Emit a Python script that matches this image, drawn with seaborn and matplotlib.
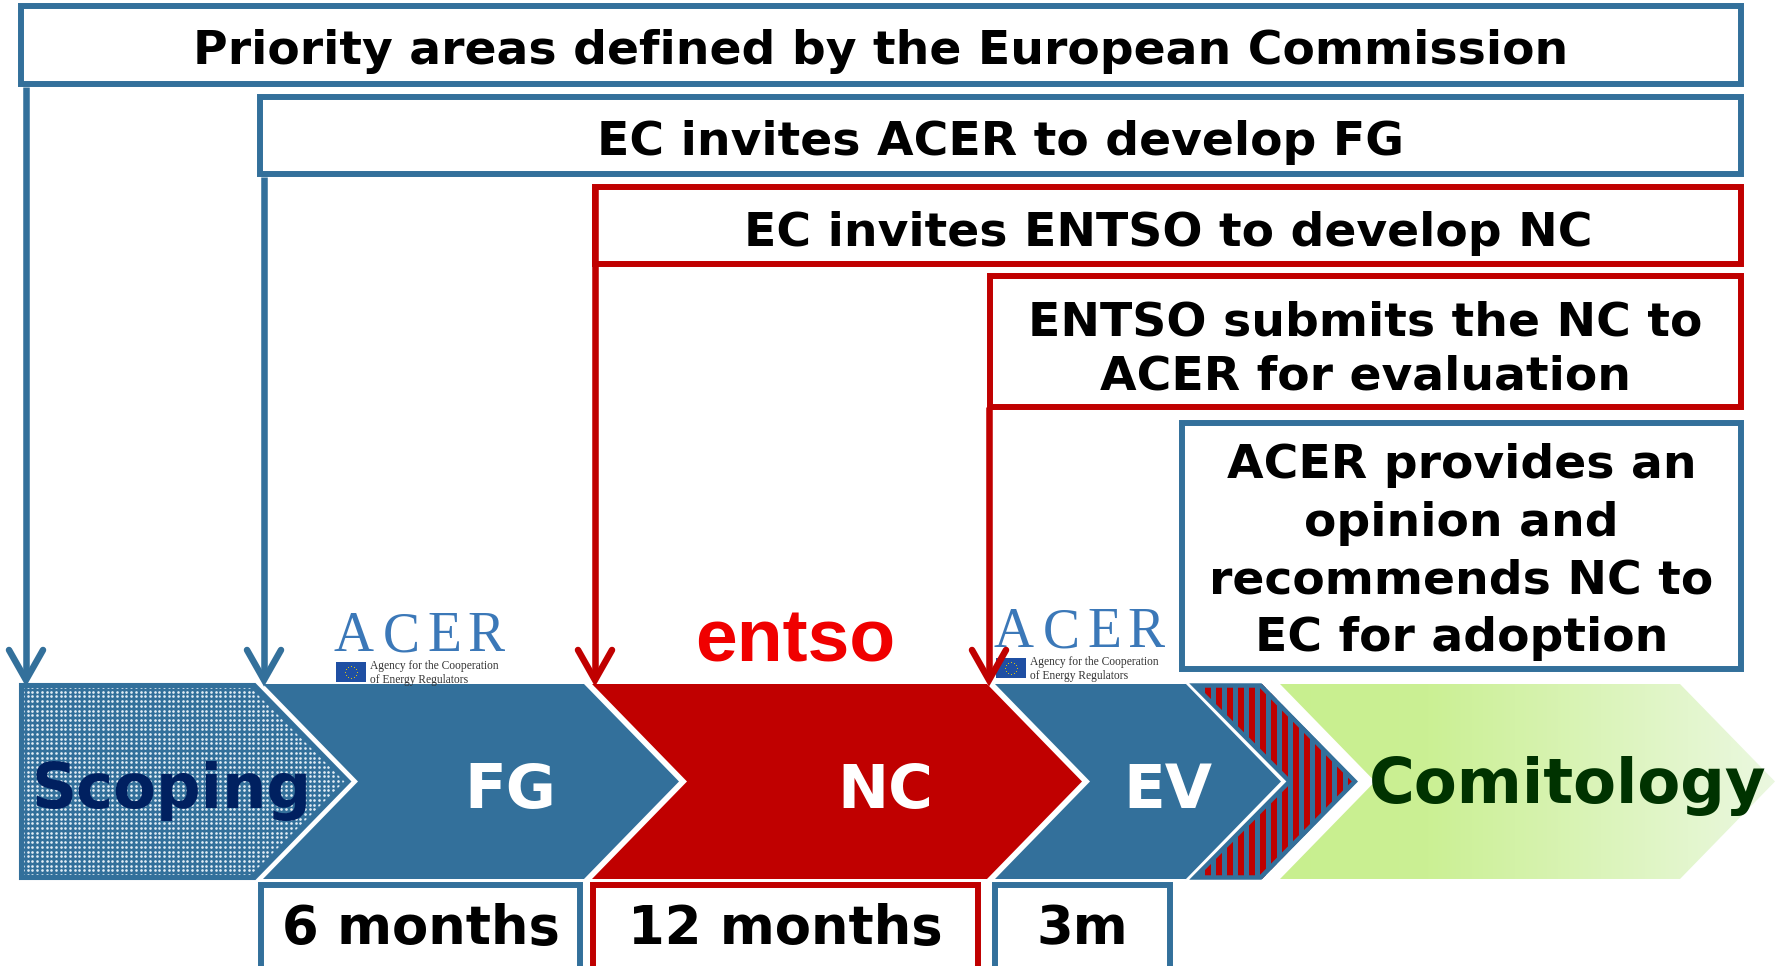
import numpy as np
import matplotlib
matplotlib.use("Agg")
import matplotlib.pyplot as plt
from matplotlib.patches import Polygon, Rectangle
from matplotlib.colors import LinearSegmentedColormap
import seaborn as sns

sns.set_theme(style="white")
plt.rcParams["font.family"] = ["DejaVu Sans"]

BLUE = "#33709b"
RED = "#c00000"

# ---- content ----
step_texts = [
    "Priority areas defined by the European Commission",
    "EC invites ACER to develop FG",
    "EC invites ENTSO to develop NC",
    "ENTSO submits the NC to\nACER for evaluation",
    "ACER provides an\nopinion and\nrecommends NC to\nEC for adoption",
]
step_colors = [BLUE, BLUE, RED, RED, BLUE]
phase_names = ["Scoping", "FG", "NC", "EV", "", "Comitology"]
phase_text_colors = ["#002060", "white", "white", "white", "white", "#003300"]
durations = ["6 months", "12 months", "3m"]
duration_colors = [BLUE, RED, BLUE]
arrow_colors = [BLUE, BLUE, RED, RED]
acer_subtitle = "Agency for the Cooperation\nof Energy Regulators"

# ---- layout (pixels, origin top-left) ----
W, H = 1785, 966
step_boxes = [(21, 6, 1741, 84), (260, 97, 1741, 174), (595, 187, 1741, 264),
              (990, 276, 1741, 407), (1182, 423, 1741, 669)]
step_baselines = [[64], [155], [246], [335, 390], [478, 536, 594, 651]]
arrow_x = [26, 264, 595, 989]
arrow_from = [87, 177, 187, 407]
TIP = 680
T, B = 684, 879
M = (T + B) / 2
D = 95
phase_spans = [(20, 255), (263, 584), (592, 987), (995, 1186), (1193, 1262), (1280, 1680)]
phase_label_x = [172, 510, 885, 1168, 0, 1568]
phase_label_y = [808, 808, 808, 808, 0, 803]
duration_boxes = [(261, 580), (593, 978), (995, 1170)]


def chevron(x0, x1, notch=True, inset=0):
    pts = [(x0 + inset, T + inset), (x1 - inset, T + inset), (x1 + D - 1.4 * inset, M),
           (x1 - inset, B - inset), (x0 + inset, B - inset)]
    if notch:
        pts.append((x0 + D + inset, M))
    return pts


fig = plt.figure(figsize=(17.85, 9.66), dpi=100)
ax = fig.add_axes([0, 0, 1, 1])
ax.axis("off")

# ---- phase chevrons ----
for i, (x0, x1) in enumerate(phase_spans):
    if i == 0:
        p = Polygon(chevron(x0, x1, notch=False), closed=True, fc=BLUE, ec=BLUE, lw=1.5, zorder=2)
        ax.add_patch(p)
        inner = Polygon(chevron(x0, x1, notch=False, inset=4), closed=True, transform=ax.transData)
        gx, gy = np.meshgrid(np.arange(x0 + 3, x1 + D, 4.7), np.arange(T + 3, B, 4.7))
        dots = ax.scatter(gx.ravel(), gy.ravel(), s=3.6, c="#e4eef6", linewidths=0, zorder=3)
        dots.set_clip_path(inner)
    elif i == 4:
        p = Polygon(chevron(x0, x1), closed=True, fc=BLUE, ec="none", zorder=2)
        ax.add_patch(p)
        stripes = ax.vlines(np.arange(x0 + 4, x1 + D, 11), T, B, colors=RED, lw=4.3, zorder=3)
        stripes.set_clip_path(p)
        ax.add_patch(Polygon(chevron(x0, x1, inset=1.5), closed=True, fc="none", ec=BLUE,
                             lw=3.2, joinstyle="miter", zorder=4))
    elif i == 5:
        p = Polygon(chevron(x0, x1), closed=True, fc="none", ec="none", zorder=2)
        ax.add_patch(p)
        cmap = LinearSegmentedColormap.from_list(
            "comit", [(0, "#c8ef8f"), (0.3, "#cbf094"), (1, "#ebf8e0")])
        im = ax.imshow(np.linspace(0, 1, 256)[None, :], cmap=cmap,
                       extent=[x0, x1 + D, B, T], aspect="auto", zorder=2)
        im.set_clip_path(p)
    else:
        fc = RED if i == 2 else BLUE
        ax.add_patch(Polygon(chevron(x0, x1), closed=True, fc=fc, ec="none", zorder=2))
    if phase_names[i]:
        ax.text(phase_label_x[i], phase_label_y[i], phase_names[i], ha="center", va="baseline",
                fontsize=45 if i in (0, 5) else 44, fontweight="bold",
                color=phase_text_colors[i], zorder=6)

# ---- duration boxes ----
for (x0, x1), lab, col in zip(duration_boxes, durations, duration_colors):
    ax.add_patch(Rectangle((x0, 885), x1 - x0, 140, fc="white", ec=col, lw=4.3,
                           joinstyle="miter", zorder=5))
    ax.text((x0 + x1) / 2, 944, lab, ha="center", va="baseline", fontsize=38,
            fontweight="bold", color="black", zorder=6)

# ---- step boxes ----
for (x0, y0, x1, y1), txt, col, bls in zip(step_boxes, step_texts, step_colors, step_baselines):
    ax.add_patch(Rectangle((x0, y0), x1 - x0, y1 - y0, fc="white", ec=col, lw=4.3,
                           joinstyle="miter", zorder=5))
    for line, yb in zip(txt.split("\n"), bls):
        ax.text((x0 + x1) / 2, yb, line, ha="center", va="baseline", fontsize=34,
                fontweight="bold", color="black", zorder=6)


# ---- ACER logos ----
def acer_logo(dx, dy):
    for ch, cx in zip("ACER", [354, 401, 444, 486]):
        ax.text(cx + dx, 651 + dy, ch, ha="center", va="baseline", fontsize=40,
                family="Liberation Serif", color="#3b78b8", zorder=4)
    ax.add_patch(Rectangle((336 + dx, 662 + dy), 30, 20, fc="#1f4fa3", ec="none", zorder=4))
    ang = np.linspace(0, 2 * np.pi, 12, endpoint=False)
    ax.scatter(351 + dx + 6 * np.cos(ang), 672 + dy + 6 * np.sin(ang), s=0.6,
               c="#f5d200", linewidths=0, zorder=5)
    ax.text(370 + dx, 683 + dy, acer_subtitle, ha="left", va="baseline", linespacing=1.25,
            fontsize=8.3, family="Liberation Serif", color="#333333", zorder=4)


acer_logo(0, 0)
acer_logo(660, -4)

ax.text(795, 661, "entso", ha="center", va="baseline", fontsize=54, fontweight="bold",
        family="Liberation Sans", color="#f00000", zorder=4)

# ---- connector arrows ----
for x, y0, col in zip(arrow_x, arrow_from, arrow_colors):
    ax.plot([x, x], [y0, TIP - 4], color=col, lw=4.7, solid_capstyle="butt", zorder=7)
    ax.plot([x - 17, x, x + 17], [TIP - 30, TIP, TIP - 30], color=col, lw=4.7,
            solid_capstyle="round", solid_joinstyle="miter", zorder=7)

ax.set_xlim(0, W)
ax.set_ylim(H, 0)
fig.savefig("out.png", dpi=100, facecolor="white")
